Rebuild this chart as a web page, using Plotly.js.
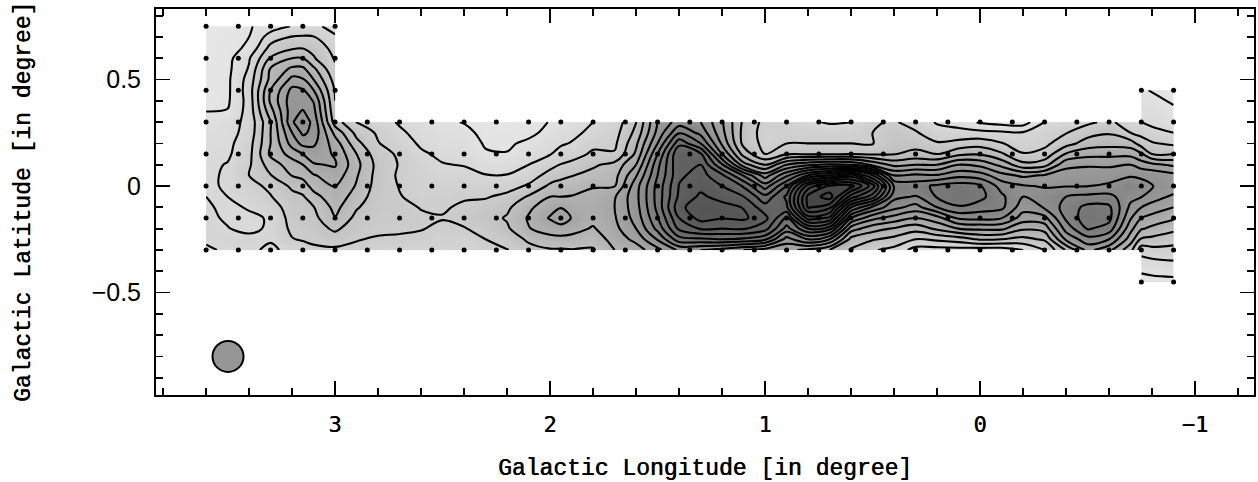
<!DOCTYPE html>
<html><head><meta charset="utf-8">
<script src="https://cdn.plot.ly/plotly-3.0.1.min.js"></script>
<style>html,body{margin:0;padding:0;background:#fff}#c{width:1258px;height:482px}</style>
</head><body><div id="c"></div>
<script>
// grid
const lon=[3.6,3.5,3.4,3.3,3.2,3.15,3.1,3.0,2.9,2.8,2.7,2.6,2.5,2.4,2.3,2.2,2.1,2.0,1.95,1.9,1.8,1.7,1.6,1.5,1.4,1.3,1.2,1.1,1.0,0.9,0.8,0.7,0.6,0.5,0.4,0.3,0.2,0.1,0,-0.1,-0.2,-0.3,-0.4,-0.5,-0.6,-0.7,-0.75,-0.8,-0.9];
const lat=[0.75,0.7,0.65,0.6,0.55,0.5,0.45,0.4,0.35,0.3,0.25,0.2,0.15,0.1,0.05,0,-0.05,-0.1,-0.15,-0.2,-0.25,-0.3,-0.35,-0.4,-0.45];
// upper-left block, lat 0.75..0.35
const top_360=[.2,.3,.35,.4,.45,.5,.55,.6,1.0];
const top_350=[.4,.5,.6,.7,.75,.8,.8,.85,1.05];
const top_340=[.9,1.0,1.2,1.9,2.1,2.4,2.5,2.4,2.4];
const top_330=[1.5,2.45,3.3,4.1,5.1,5.3,6.0,6.2,5.6];
const top_320=[2.05,3.05,3.8,5.0,6.2,7.3,8.3,8.6,8.6];
const top_315=[2.2,3.1,3.9,5.0,6.2,7.1,8.1,8.5,9.1];
const top_310=[2.1,3.05,3.7,4.1,5.2,6.0,7.0,7.95,8.3];
const top_300=[1.85,2.05,2.6,2.9,3.15,3.6,3.9,4.0,4.2];
// right block, lat 0.45..0.35 and -0.35..-0.45
const up_m075=[1.1,1.3,1.5], up_m080=[.95,1.2,1.5], up_m090=[.6,.9,1.15];
const lo_m075=[1.7,1.1,.6], lo_m080=[1.85,1.2,.7], lo_m090=[2.0,1.35,.7];
// main band, lat 0.3..-0.3
const b_360=[1.3,1.5,1.65,1.75,1.8,1.85,1.85,2.0,2.15,2.25,2.2,2.1,1.9];
const b_350=[1.55,1.65,1.75,1.85,2.05,2.1,2.1,2.0,1.75,1.85,2.05,2.4,2.1];
const b_340=[2.3,2.35,2.6,2.7,2.85,3.0,2.7,2.35,2.1,1.8,1.7,2.35,2.2];
const b_330=[4.9,5.0,5.0,5.2,4.5,3.95,3.2,2.95,2.5,2.1,2.2,2.1,1.8];
const b_320=[8.9,8.0,7.4,6.4,5.5,5.05,4.2,3.7,3.5,3.4,3.2,2.95,2.3];
const b_315=[9.7,9.2,8.3,7.0,6.0,5.3,4.5,3.9,3.7,3.5,3.3,3.1,2.5];
const b_310=[8.7,8.7,8.2,7.5,6.9,5.9,5.4,4.6,3.95,3.7,3.5,3.2,2.8];
const b_300=[4.5,5.7,6.5,6.9,7.1,6.6,6.05,5.7,5.3,4.95,4.2,3.5,2.8];
const b_290=[2.95,3.7,4.3,5.0,5.3,5.1,4.9,4.5,4.1,3.7,3.4,3.05,2.8];
const b_280=[2.4,2.85,3.05,3.4,3.65,3.6,3.55,3.5,3.4,3.3,3.2,2.9,2.6];
const b_270=[1.9,2.15,2.5,2.85,2.93,2.85,2.95,3.05,3.3,3.3,3.1,2.9,2.5];
const b_260=[1.5,1.7,1.85,2.15,2.35,2.5,2.6,2.7,2.95,3.15,3.05,2.75,2.4];
const b_250=[1.2,1.4,1.55,1.8,2.05,2.25,2.5,2.7,2.9,3.05,2.8,2.6,2.35];
const b_240=[.95,1.3,1.5,1.75,1.95,2.3,2.55,2.9,3.15,3.25,2.95,2.6,2.3];
const b_230=[.5,.7,.9,1.1,1.5,2.05,2.5,2.9,3.4,3.6,3.3,3.0,2.7];
const b_220=[.4,.6,.85,1.05,1.5,2.05,2.55,3.3,3.8,4.1,3.85,3.3,2.95];
const b_210=[.6,.75,1.2,1.55,2.0,2.45,3.15,4.1,4.8,5.1,4.95,4.2,3.6];
const b_200=[1.05,1.3,1.6,1.95,2.65,3.4,4.2,5.0,5.6,6.1,5.4,4.7,3.9];
const b_195=[1.3,1.6,1.9,2.3,3.05,3.7,4.45,5.0,5.95,6.6,5.6,4.7,3.9];
const b_190=[1.5,1.8,2.05,2.5,3.3,3.95,4.55,5.05,5.5,5.95,5.35,4.7,3.95];
const b_180=[2.0,2.2,2.7,3.2,3.85,4.3,4.95,5.2,5.35,5.3,4.9,4.4,3.9];
const b_170=[2.4,2.6,2.8,3.1,4.3,4.65,4.95,5.9,6.0,5.9,5.7,5.4,5.0];
const b_160=[3.95,4.3,4.8,5.2,6.0,6.9,7.6,7.7,7.6,7.4,7.0,6.3,5.5];
const b_150=[7.0,7.3,8.0,9.0,9.7,10.0,10.35,10.4,10.3,9.9,9.3,8.1,6.7];
const b_140=[8.5,9.9,11.7,13.0,12.9,12.8,13.05,13.2,13.7,13.0,12.2,10.6,8.2];
const b_130=[8.0,8.7,10.0,12.2,13.0,13.4,13.7,14.2,14.7,14.4,13.1,10.8,8.0];
const b_120=[6.1,6.3,6.8,8.0,10.1,12.2,13.0,13.6,14.4,14.05,13.0,11.0,7.6];
const b_110=[3.8,3.65,3.7,4.6,6.4,9.9,11.9,13.0,13.95,14.2,13.1,10.8,7.0];
const b_100=[2.7,2.6,2.7,3.0,5.0,7.5,9.5,11.3,12.4,13.3,12.4,10.2,6.6];
const b_090=[2.7,2.7,3.0,3.9,7.0,9.8,12.0,13.2,12.8,10.9,9.6,7.6,6.2];
const b_080=[2.15,2.65,3.0,3.9,7.8,12.0,16.5,18.3,18.1,15.5,12.0,9.0,5.8];
const b_070=[1.9,2.5,3.0,3.9,8.2,13.0,18.2,19.5,17.3,14.8,11.4,8.0,5.0];
const b_060=[2.0,2.6,3.0,4.0,8.0,14.5,18.4,15.5,12.0,9.0,6.5,4.65,3.9];
const b_050=[2.9,3.0,2.95,3.9,6.8,12.0,15.5,13.5,9.8,7.3,5.4,4.1,3.1];
const b_040=[3.1,3.5,3.7,3.95,5.7,8.0,9.9,9.3,8.3,6.6,4.9,3.7,2.7];
const b_030=[2.6,3.1,3.6,4.3,6.0,8.2,9.6,8.9,7.6,6.0,4.4,3.0,1.6];
const b_020=[1.9,2.4,3.1,4.0,6.0,8.1,10.2,10.1,9.0,6.6,5.2,3.2,1.6];
const b_010=[1.5,2.4,3.3,4.75,7.0,8.7,10.5,10.6,9.9,8.2,6.0,3.5,1.6];
const b_000=[.9,2.3,3.55,4.9,6.7,8.5,10.1,10.3,9.5,8.3,6.2,4.1,1.5];
const b_m010=[.6,2.2,3.05,4.15,5.7,7.35,8.6,9.2,9.25,8.05,6.2,4.0,1.5];
const b_m020=[.5,2.1,2.6,3.05,4.3,6.8,8.1,8.0,7.4,6.55,5.15,3.7,2.0];
const b_m030=[2.0,2.5,2.75,3.35,4.6,7.1,7.9,8.5,8.1,6.7,5.4,4.15,3.0];
const b_m040=[2.3,2.95,3.6,5.1,6.75,7.4,7.95,9.0,9.4,9.2,8.4,7.2,5.1];
const b_m050=[2.8,3.6,4.45,5.65,6.9,7.4,7.98,9.25,10.3,10.6,10.1,8.6,7.3];
const b_m060=[3.25,3.9,4.65,5.7,6.85,7.5,8.2,9.3,10.2,10.3,9.6,8.0,6.3];
const b_m070=[2.35,3.0,4.45,5.7,7.0,7.85,8.9,8.3,7.75,7.1,6.3,5.5,4.3];
const b_m075=[2.0,2.7,3.5,5.15,6.5,7.8,8.4,8.05,7.0,6.0,5.1,3.85,2.45];
const b_m080=[1.7,2.4,3.1,4.0,6.25,7.7,8.05,7.45,6.6,5.65,4.75,3.75,2.7];
const b_m090=[1.4,2.0,2.8,4.0,5.8,7.3,7.6,6.8,6.0,5.15,4.25,3.4,2.7];
const bandCols=[b_360,b_350,b_340,b_330,b_320,b_315,b_310,b_300,b_290,b_280,b_270,b_260,b_250,b_240,b_230,b_220,b_210,b_200,b_195,b_190,b_180,b_170,b_160,b_150,b_140,b_130,b_120,b_110,b_100,b_090,b_080,b_070,b_060,b_050,b_040,b_030,b_020,b_010,b_000,b_m010,b_m020,b_m030,b_m040,b_m050,b_m060,b_m070,b_m075,b_m080,b_m090];
const topCols=[top_360,top_350,top_340,top_330,top_320,top_315,top_310,top_300];
const upCols=[up_m075,up_m080,up_m090], loCols=[lo_m075,lo_m080,lo_m090];
// sampled positions
const dotLon=[3.6,3.45,3.3,3.15,3,2.85,2.7,2.55,2.4,2.25,2.1,1.95,1.8,1.65,1.5,1.35,1.2,1.05,0.9,0.75,0.6,0.45,0.3,0.15,0,-0.15,-0.3,-0.45,-0.6,-0.75,-0.9];
const dotLat=[0.75,0.6,0.45,0.3,0.15,0,-0.15,-0.3,-0.45];
const beamLon=[3.498], beamLat=[-0.8];
const tickX=[3,2,1,0,-1], tickY=[0.5,0,-0.5];
const grayA=[[0,232],[1,226],[2,216],[3,205],[4,195],[5,185],[6,175],[7,165],[8,155],[9,148],[10,142],[20,100]];
const grayB=[[0,232],[1,226],[2,216],[3,205],[4,192],[5,178],[6,165],[7,155],[8,145],[9,133],[10,122],[12,104],[14,88],[16,78],[20,66]];

const zMax=20;
const scale=g=>g.map(([v,c])=>[v/zMax,`rgb(${c},${c},${c})`]);
function val(j,i){
  if(j<=8){ if(i<=7) return topCols[i][j]; if(i>=46&&j>=6) return upCols[i-46][j-6]; return null; }
  if(j<=21) return bandCols[i][j-9];
  if(i>=46) return loCols[i-46][j-22];
  return null;
}
function edges(a,padHi){
  const e=[a[0]]; for(let k=0;k<a.length-1;k++) e.push((a[k]+a[k+1])/2); e.push(a[a.length-1]+padHi); return e;
}
function rng(a,b){const r=[];for(let k=b;k>=a;k--)r.push(k);return r;}
function patch(i0,i1,j0,j1,g,padLon){
  const is=rng(i0,i1),js=rng(j0,j1);
  return {type:'heatmap',x:edges(is.map(i=>lon[i]),padLon||0),y:edges(js.map(j=>lat[j]),0),
    z:js.map(j=>is.map(i=>val(j,i))),zmin:0,zmax:zMax,zsmooth:'best',colorscale:scale(g),showscale:false,hoverinfo:'skip'};
}
function contour(i0,i1,j0,j1){
  const is=rng(i0,i1),js=rng(j0,j1);
  return {type:'contour',x:is.map(i=>lon[i]),y:js.map(j=>lat[j]),
    z:js.map(j=>is.map(i=>val(j,i))),showscale:false,hoverinfo:'skip',
    contours:{coloring:'none',start:1,end:19,size:1,showlabels:false},
    line:{color:'#000',width:2.1,smoothing:1}};
}
const dx=[],dy=[];
dotLat.forEach((b,j)=>dotLon.forEach((l,i)=>{
  const band=j>=3&&j<=7, tl=j<=2&&i<=4, rb=(j===2||j===8)&&i>=29;
  if(band||tl||rb){dx.push(l);dy.push(b);}
}));
const dots={type:'scatter',mode:'markers',x:dx,y:dy,marker:{color:'#000',size:5},hoverinfo:'skip'};
const beam={type:'scatter',mode:'markers',x:beamLon,y:beamLat,marker:{color:'#969696',size:31,line:{color:'#000',width:2}},hoverinfo:'skip'};
const thick='0.6px 0 0 #000';
const titleFont={family:'"Liberation Mono",monospace',size:23,color:'#000',shadow:thick};
const layout={
  width:1258,height:482,margin:{l:156,r:4,t:9,b:87},showlegend:false,paper_bgcolor:'#fff',plot_bgcolor:'#fff',
  xaxis:{range:[3.833,-1.274],tickmode:'array',tickvals:tickX,ticktext:['3','2','1','0','\u22121'],
    ticks:'inside',ticklen:14,tickwidth:1.8,tickcolor:'#000',mirror:'allticks',showline:true,linewidth:2,linecolor:'#000',showgrid:false,zeroline:false,
    minor:{ticks:'inside',dtick:0.2,tick0:0,ticklen:7,tickwidth:1.8,tickcolor:'#000',showgrid:false},
    ticklabelstandoff:9,tickfont:{family:'"DejaVu Sans Mono",monospace',size:22,color:'#000',shadow:'0.4px 0 0 #000'},
    title:{text:'Galactic Longitude [in degree]',font:titleFont,standoff:24}},
  yaxis:{range:[-0.981,0.831],tickmode:'array',tickvals:tickY,ticktext:['0.5','0','\u22120.5'],
    ticks:'inside',ticklen:14,tickwidth:1.8,tickcolor:'#000',mirror:'allticks',showline:true,linewidth:2,linecolor:'#000',showgrid:false,zeroline:false,
    minor:{ticks:'inside',dtick:0.1,tick0:0,ticklen:7,tickwidth:1.8,tickcolor:'#000',showgrid:false},
    ticklabelstandoff:8,tickfont:{family:'"Liberation Sans",sans-serif',size:25,color:'#000'},
    title:{text:'Galactic Latitude [in degree]',font:titleFont,standoff:55}}
};
const data=[patch(0,7,0,9,grayA),patch(0,12,9,21,grayA),patch(12,48,9,21,grayB,0.01),patch(46,48,6,24,grayB),
  contour(0,7,0,9),contour(0,48,9,21),contour(46,48,6,9),contour(46,48,21,24),dots,beam];
Plotly.newPlot('c',data,layout,{staticPlot:true,displayModeBar:false});
</script></body></html>
